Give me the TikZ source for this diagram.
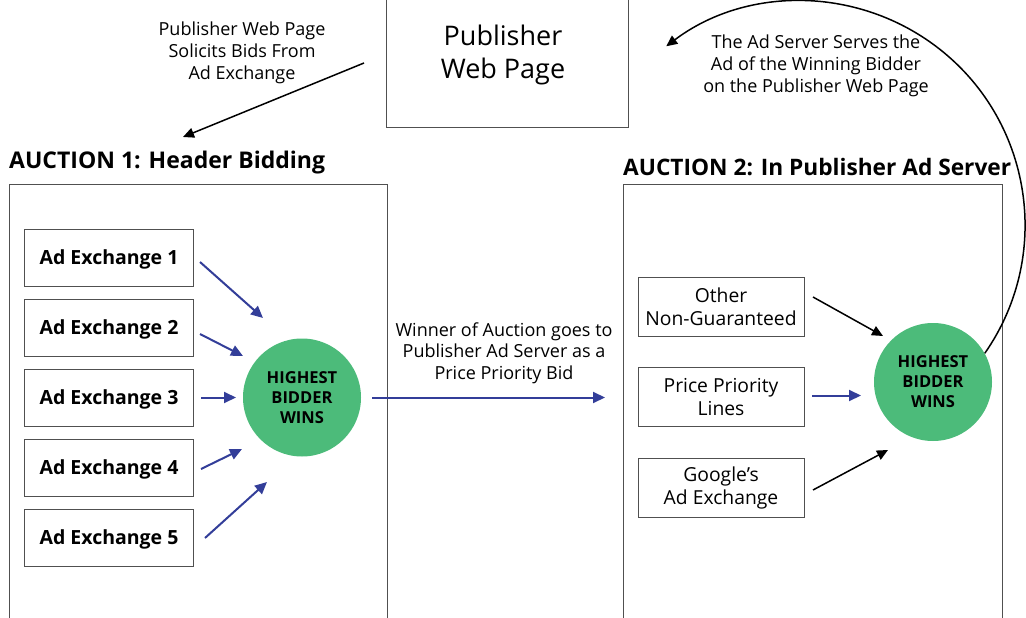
\documentclass[tikz,border=0pt]{standalone}
\usepackage{fontspec}
\setmainfont{Open Sans}
\usetikzlibrary{arrows.meta}
\definecolor{bidblue}{RGB}{51,62,153}
\definecolor{wingreen}{RGB}{76,187,122}
\definecolor{framegray}{RGB}{80,80,80}
\begin{document}
\begin{tikzpicture}[x=1pt,y=1pt]
\tikzset{
  panel/.style={draw=framegray, line width=1.1pt, inner sep=0, anchor=north west},
  exbox/.style={draw=framegray, line width=1pt, minimum width=169pt, minimum height=57pt,
    inner sep=0, text height=19pt, text depth=5pt, font=\bfseries\fontsize{19.5}{22}\selectfont},
  srcbox/.style={draw=framegray, line width=1pt, minimum width=166pt, minimum height=59pt,
    inner sep=0, align=center, font=\fontsize{19.3}{23}\selectfont},
  winner/.style={circle, fill=wingreen, minimum size=118pt, inner sep=0, align=center,
    font=\bfseries\fontsize{16.5}{20}\selectfont},
  note/.style={align=center, inner sep=0, font=\fontsize{18}{21.7}\selectfont},
  heading/.style={anchor=west, inner sep=0, font=\bfseries\fontsize{23}{27}\selectfont},
  flow/.style={draw=bidblue, line width=2pt, -{Triangle[length=12pt,width=11pt,fill=bidblue]}},
  feed/.style={draw=black, line width=1.5pt, -{Triangle[length=11pt,width=10pt]}},
}
\useasboundingbox (0,0) rectangle (1026,-618);

% page box (open at the top edge of the sheet)
\node[panel, minimum width=242pt, minimum height=157pt] (page) at (386,30) {};
\node[note, font=\fontsize{27}{33}\selectfont] (pagetxt) at (503,-54.5) {Publisher\\Web Page};

% solicitation note and arrow
\node[note] (solicit) at (242,-53) {Publisher Web Page\\Solicits Bids From\\Ad Exchange};
\coordinate (solS) at (364,-63);
\coordinate (solE) at (183,-137);
\draw[feed] (solS) -- (solE);

% auction 1 panel
\node[heading] (h1) at (9,-163) {AUCTION 1: Header Bidding};
\node[panel, minimum width=378pt, minimum height=460pt] (left) at (9,-184) {};

\node[exbox] (ex1) at (109,-257.5) {Ad Exchange 1};
\node[exbox] (ex2) at (109,-327.5) {Ad Exchange 2};
\node[exbox] (ex3) at (109,-397.5) {Ad Exchange 3};
\node[exbox] (ex4) at (109,-467.5) {Ad Exchange 4};
\node[exbox] (ex5) at (109,-537.5) {Ad Exchange 5};

\node[winner] (win1) at (302,-397.5) {HIGHEST\\BIDDER\\WINS};

\coordinate (b1s) at (200,-262); \coordinate (b1e) at (263,-318);
\coordinate (b2s) at (200,-334); \coordinate (b2e) at (243,-356);
\coordinate (b3s) at (201,-397.5); \coordinate (b3e) at (236,-397.5);
\coordinate (b4s) at (201,-469); \coordinate (b4e) at (242,-449);
\coordinate (b5s) at (205,-538); \coordinate (b5e) at (267,-482);
\draw[flow] (b1s) -- (b1e);
\draw[flow] (b2s) -- (b2e);
\draw[flow] (b3s) -- (b3e);
\draw[flow] (b4s) -- (b4e);
\draw[flow] (b5s) -- (b5e);

% hand-off between auctions
\node[note] (handoff) at (504,-353) {Winner of Auction goes to\\Publisher Ad Server as a\\Price Priority Bid};
\coordinate (hoS) at (372,-397.5);
\coordinate (hoE) at (605,-397.5);
\draw[flow] (hoS) -- (hoE);

% auction 2 panel
\node[heading, font=\bfseries\fontsize{22.7}{27}\selectfont] (h2) at (623,-167) {AUCTION 2: In Publisher Ad Server};
\node[panel, minimum width=379pt, minimum height=460pt] (right) at (623,-184) {};

\node[srcbox] (other) at (721,-306.5) {Other\\Non-Guaranteed};
\node[srcbox] (ppl) at (721,-397) {Price Priority\\Lines};
\node[srcbox] (gax) at (721,-488) {Google’s\\Ad Exchange};

\node[winner] (win2) at (933,-382) {HIGHEST\\BIDDER\\WINS};

\coordinate (c1s) at (813,-297); \coordinate (c1e) at (883,-336);
\coordinate (c2s) at (812,-395.5); \coordinate (c2e) at (861,-395.5);
\coordinate (c3s) at (813,-490); \coordinate (c3e) at (888,-450);
\draw[feed] (c1s) -- (c1e);
\draw[flow] (c2s) -- (c2e);
\draw[feed] (c3s) -- (c3e);

% serving the winning ad back to the page
\node[note] (serve) at (816,-66) {The Ad Server Serves the\\Ad of the Winning Bidder\\on the Publisher Web Page};
\draw[feed] (win2.29.4) arc[start angle=-34.9, end angle=127, radius=224];
\end{tikzpicture}
\end{document}
